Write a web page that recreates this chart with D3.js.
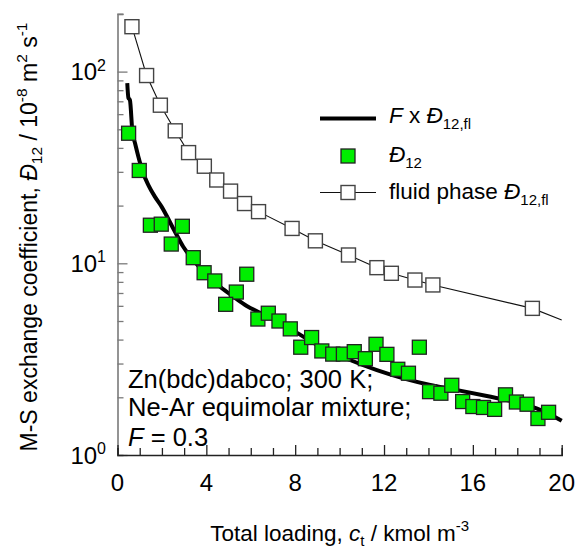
<!DOCTYPE html>
<html>
<head>
<meta charset="utf-8">
<script src="https://cdn.jsdelivr.net/npm/d3@7"></script>
<style>
  html, body { margin: 0; padding: 0; background: #fff; }
  svg { display: block; font-family: "Liberation Sans", Arial, Helvetica, sans-serif; }
</style>
</head>
<body>
<svg id="chart" width="575" height="550"></svg>
<script>
// Fluid-phase M-S diffusivity (open squares, thin line)
const fluidLoading = [0.65, 1.31, 1.93, 2.60, 3.20, 3.91, 4.47, 5.09, 5.72, 6.35, 7.86, 8.91, 10.40, 11.68, 12.33, 13.39, 14.20, 18.68];
const fluidD       = [171.5, 95.4, 66.8, 49.1, 37.8, 32.1, 27.2, 23.8, 20.5, 18.6, 15.2, 13.1, 11.05, 9.49, 8.87, 8.18, 7.71, 5.82];
// the fluid-phase line continues to the end of the loading range
const fluidEndLoading = 20.0;
const fluidEndD = 5.06;

// MD exchange coefficient D12 (green squares)
const mdLoading = [0.50, 0.98, 1.48, 1.97, 2.92, 2.42, 3.41, 3.90, 4.38, 5.82, 5.35, 4.87, 6.32, 6.79, 7.27, 7.78,
                   8.25, 8.74, 9.20, 9.69, 10.17, 10.66, 11.16, 11.64, 12.13, 12.62, 13.10, 13.59, 14.05, 14.56,
                   15.05, 15.54, 16.00, 16.48, 16.98, 17.47, 17.96, 18.44, 18.93, 19.41];
const mdD       = [47.7, 30.5, 15.8, 16.0, 15.6, 12.6, 10.7, 8.93, 8.09, 8.77, 7.08, 6.11, 5.12, 5.49, 5.00, 4.55,
                   3.65, 4.10, 3.49, 3.36, 3.36, 3.46, 3.18, 3.78, 3.35, 2.80, 2.67, 3.65, 2.14, 2.10,
                   2.31, 1.90, 1.79, 1.77, 1.73, 2.06, 1.89, 1.84, 1.55, 1.67];

// F x D12,fl with F = 0.3 (thick black curve)
const fitLoading = [0.44, 0.49, 0.56, 0.67, 0.79, 0.94, 1.16, 1.39, 1.69, 1.99, 2.51, 2.96, 3.41, 4.02, 4.62,
                    5.22, 5.82, 6.42, 7.02, 7.62, 8.07, 9.27, 10.47, 11.68, 12.87, 14.08, 15.13, 16.63, 18.13, 19.03, 20.0];
const fitD       = [87.0, 73.0, 71.0, 48.6, 42.3, 36.0, 29.5, 25.6, 22.2, 19.7, 15.2, 12.2, 10.4, 8.69, 7.55,
                    6.70, 5.99, 5.52, 5.10, 4.67, 4.35, 3.60, 3.13, 2.77, 2.51, 2.32, 2.20, 2.03, 1.86, 1.72, 1.51];

// Axis ticks
const xMajorTicks = [0, 4, 8, 12, 16, 20];
const xMinorTicks = d3.range(0, 21, 1);
const yDecadeExponents = [0, 1, 2];
const yDomain = [1, 200];

const svg = d3.select("#chart");
const FONT = "\"Liberation Sans\", Arial, Helvetica, sans-serif";

const x = d3.scaleLinear().domain([0, 20]).range([117.5, 561.7]);
const y = d3.scaleLog().domain(yDomain).range([455, 13.9]);

// append a run of styled tspans to a text element
function richText(sel, parts, baseSize) {
  let shift = 0;
  parts.forEach(p => {
    const target = p.shift || 0;
    const ts = sel.append("tspan").text(p.t);
    if (target !== shift) { ts.attr("dy", target - shift); shift = target; }
    if (p.italic) ts.attr("font-style", "italic");
    ts.attr("font-size", p.size || baseSize);
  });
  return sel;
}

// ---- y axis (log) ----
const yAxisG = svg.append("g").attr("transform", `translate(${x(0)},0)`);
const yAxis = d3.axisRight(y)
  .tickValues(y.ticks().filter(v => v <= yDomain[1]))
  .tickSize(6)
  .tickFormat("");
yAxisG.call(yAxis);
yAxisG.select(".domain").attr("stroke", "#7a7a7a").attr("stroke-width", 1.6);
yAxisG.selectAll(".tick line")
  .attr("stroke", "#7a7a7a").attr("stroke-width", 1.3)
  .attr("x2", d => (Math.abs(Math.log10(d) - Math.round(Math.log10(d))) < 1e-9 ? 10 : 6));

// y tick labels: 10^n
yDecadeExponents.forEach(e => {
  const t = svg.append("text")
    .attr("x", 106).attr("y", y(Math.pow(10, e)) + 8.5)
    .attr("text-anchor", "end")
    .attr("font-family", FONT)
    .attr("fill", "#000");
  richText(t, [{ t: "10" }, { t: String(e), shift: -9.5, size: 16 }], 24);
});

// ---- x axis ----
const xAxisG = svg.append("g").attr("transform", `translate(0,${y(1)})`);
const xAxis = d3.axisTop(x).tickValues(xMinorTicks).tickSize(7).tickFormat("");
xAxisG.call(xAxis);
xAxisG.select(".domain").attr("stroke", "#222").attr("stroke-width", 1.6);
xAxisG.selectAll(".tick line")
  .attr("stroke", "#222").attr("stroke-width", 1.3)
  .attr("y2", d => (xMajorTicks.includes(d) ? -10 : -7));

xMajorTicks.forEach(v => {
  svg.append("text")
    .attr("x", x(v)).attr("y", 491)
    .attr("text-anchor", "middle")
    .attr("font-family", FONT).attr("font-size", 24)
    .text(v);
});

// ---- axis titles ----
const xTitle = svg.append("text")
  .attr("x", x(10)).attr("y", 541)
  .attr("text-anchor", "middle")
  .attr("font-family", FONT);
richText(xTitle, [
  { t: "Total loading, " },
  { t: "c", italic: true },
  { t: "t", shift: 5, size: 15 },
  { t: " / kmol m", shift: 0 },
  { t: "-3", shift: -10, size: 15 }
], 22.5);

const yTitle = svg.append("text")
  .attr("transform", `translate(37,237) rotate(-90)`)
  .attr("text-anchor", "middle")
  .attr("font-family", FONT);
richText(yTitle, [
  { t: "M-S exchange coefficient, " },
  { t: "\u0110", italic: true },
  { t: "12", shift: 5, size: 15.5 },
  { t: " / 10", shift: 0 },
  { t: "-8", shift: -10, size: 15.5 },
  { t: " m", shift: 0 },
  { t: "2", shift: -10, size: 15.5 },
  { t: " s", shift: 0 },
  { t: "-1", shift: -10, size: 15.5 }
], 23);

// ---- fluid phase line + open squares ----
const fluidPts = fluidLoading.map((v, i) => [v, fluidD[i]]);
const lineGen = d3.line().x(d => x(d[0])).y(d => y(d[1]));
svg.append("path")
  .datum(fluidPts.concat([[fluidEndLoading, fluidEndD]]))
  .attr("d", lineGen)
  .attr("fill", "none").attr("stroke", "#111").attr("stroke-width", 1.1);

const SQ = 14;
svg.append("g").selectAll("rect")
  .data(fluidPts).join("rect")
  .attr("x", d => x(d[0]) - SQ / 2).attr("y", d => y(d[1]) - SQ / 2)
  .attr("width", SQ).attr("height", SQ)
  .attr("fill", "#fff").attr("stroke", "#444").attr("stroke-width", 1.4);

// ---- F x D12,fl curve ----
const fitPts = fitLoading.map((v, i) => [v, fitD[i]]);
svg.append("path")
  .datum(fitPts)
  .attr("d", d3.line().x(d => x(d[0])).y(d => y(d[1])).curve(d3.curveMonotoneX))
  .attr("fill", "none").attr("stroke", "#000").attr("stroke-width", 4)
  .attr("stroke-linejoin", "round");

// ---- MD points ----
const mdPts = mdLoading.map((v, i) => [v, mdD[i]]);
svg.append("g").selectAll("rect")
  .data(mdPts).join("rect")
  .attr("x", d => x(d[0]) - SQ / 2).attr("y", d => y(d[1]) - SQ / 2)
  .attr("width", SQ).attr("height", SQ)
  .attr("fill", "#00ee00").attr("stroke", "#222").attr("stroke-width", 1.3);

// ---- legend ----
const legX = 320, legW = 56, legTextX = 389;
svg.append("line")
  .attr("x1", legX).attr("x2", legX + legW).attr("y1", 118.5).attr("y2", 118.5)
  .attr("stroke", "#000").attr("stroke-width", 4);
richText(svg.append("text").attr("x", legTextX).attr("y", 123).attr("font-family", FONT), [
  { t: "F", italic: true }, { t: " x " }, { t: "\u0110", italic: true },
  { t: "12,fl", shift: 6, size: 15 }
], 22.5);

svg.append("rect")
  .attr("x", legX + legW / 2 - SQ / 2).attr("y", 156 - SQ / 2)
  .attr("width", SQ).attr("height", SQ)
  .attr("fill", "#00ee00").attr("stroke", "#222").attr("stroke-width", 1.3);
richText(svg.append("text").attr("x", legTextX).attr("y", 162).attr("font-family", FONT), [
  { t: "\u0110", italic: true }, { t: "12", shift: 6, size: 15 }
], 22.5);

svg.append("line")
  .attr("x1", legX).attr("x2", legX + legW).attr("y1", 192.5).attr("y2", 192.5)
  .attr("stroke", "#111").attr("stroke-width", 1.1);
svg.append("rect")
  .attr("x", legX + legW / 2 - SQ / 2).attr("y", 192.5 - SQ / 2)
  .attr("width", SQ).attr("height", SQ)
  .attr("fill", "#fff").attr("stroke", "#444").attr("stroke-width", 1.4);
richText(svg.append("text").attr("x", legTextX).attr("y", 199).attr("font-family", FONT), [
  { t: "fluid phase " }, { t: "\u0110", italic: true }, { t: "12,fl", shift: 6, size: 15 }
], 22.5);

// ---- annotation ----
const noteLines = [
  [{ t: "Zn(bdc)dabco; 300 K;" }],
  [{ t: "Ne-Ar equimolar mixture;" }],
  [{ t: "F", italic: true }, { t: " = 0.3" }]
];
const noteBaselines = [388, 416, 446];
noteLines.forEach((parts, i) => {
  richText(svg.append("text").attr("x", 128).attr("y", noteBaselines[i]).attr("font-family", FONT), parts, 25.5);
});
</script>
</body>
</html>
